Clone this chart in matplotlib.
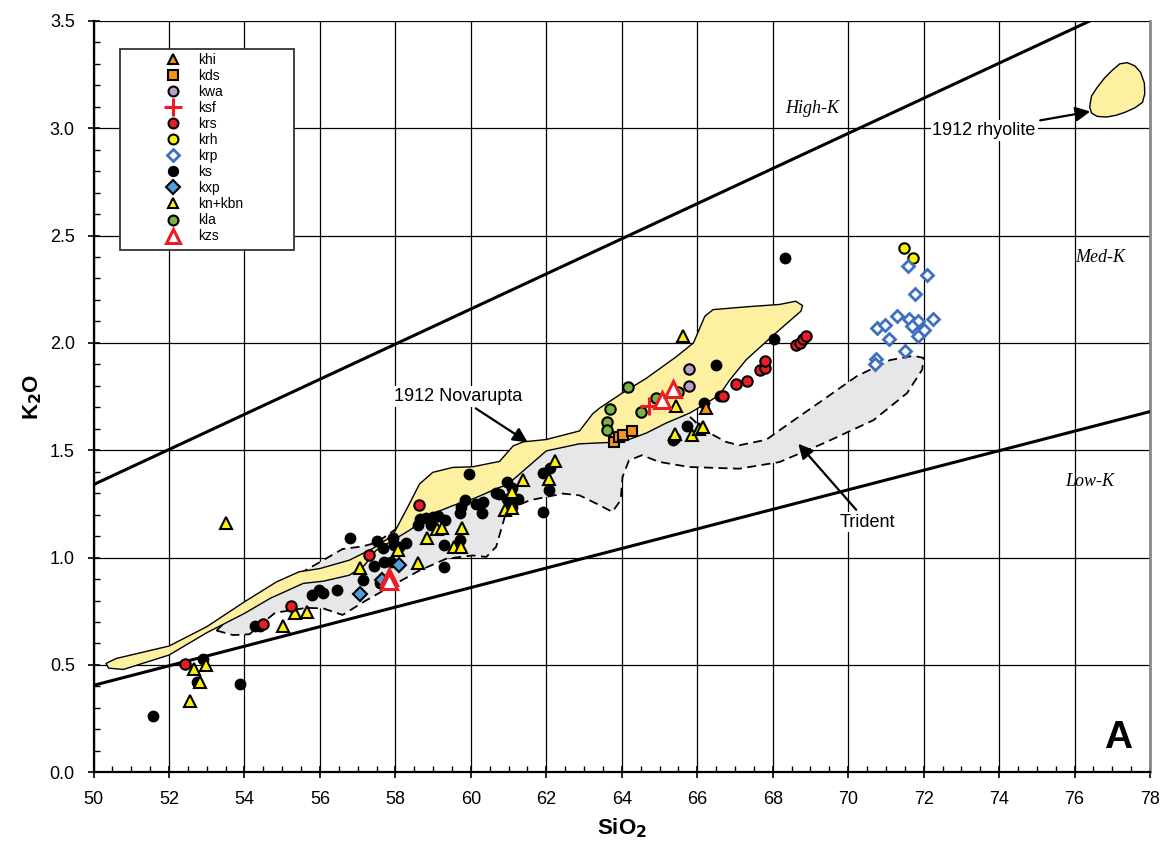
import numpy as np
import matplotlib
matplotlib.use("Agg")
import matplotlib.pyplot as plt
from matplotlib.patches import Polygon, Rectangle
from matplotlib.ticker import MultipleLocator, FormatStrFormatter

plt.rcParams['font.family'] = ['Liberation Sans', 'DejaVu Sans']

# ---- sample groups (SiO2, K2O) ----
khi_x = [66.22]
khi_y = [1.695]
kds_x = [63.80, 63.93, 64.03, 64.26]
kds_y = [1.538, 1.560, 1.573, 1.590]
kwa_x = [65.77, 65.77]
kwa_y = [1.877, 1.797]
ksf_x = [64.73]
ksf_y = [1.704]
krs_x = [52.43, 54.48, 55.24, 57.29, 58.62, 66.69, 67.02, 67.31, 67.66, 67.80,
         67.80, 68.62, 68.71, 68.80, 68.87]
krs_y = [0.503, 0.690, 0.775, 1.011, 1.245, 1.753, 1.810, 1.823, 1.875, 1.883,
         1.914, 1.992, 2.000, 2.019, 2.031]
krh_x = [71.48, 71.72]
krh_y = [2.443, 2.396]
krp_x = [71.58, 72.09, 71.77, 71.30, 71.60, 71.85, 72.25, 70.77, 70.97, 71.69,
         72.00, 71.85, 71.08, 71.50, 70.74, 70.70]
krp_y = [2.357, 2.318, 2.228, 2.124, 2.112, 2.101, 2.112, 2.070, 2.081, 2.078,
         2.059, 2.031, 2.016, 1.960, 1.925, 1.900]
ks_x = [51.58, 52.90, 52.75, 53.89, 54.28, 54.40, 55.78, 55.98, 56.07, 56.44,
        56.80, 57.13, 57.42, 57.70, 57.88, 57.50, 57.66, 57.93, 57.97, 58.10,
        58.28, 58.64, 58.81, 58.99, 59.12, 59.32, 58.59, 58.95, 59.94, 59.85,
        59.74, 59.70, 60.14, 60.32, 60.30, 60.67, 59.70, 59.30, 59.29, 60.96,
        61.09, 60.75, 60.96, 61.25, 61.09, 61.90, 62.11, 62.07, 61.91, 65.73,
        65.40, 65.36, 66.19, 66.59, 66.49, 68.04, 68.32, 57.60]
ks_y = [0.260, 0.530, 0.420, 0.410, 0.680, 0.680, 0.826, 0.850, 0.835, 0.850,
        1.090, 0.895, 0.960, 0.980, 0.980, 1.077, 1.046, 1.090, 1.060, 1.048,
        1.070, 1.180, 1.185, 1.188, 1.196, 1.173, 1.150, 1.150, 1.389, 1.270,
        1.235, 1.210, 1.250, 1.260, 1.210, 1.300, 1.080, 1.057, 0.954, 1.353,
        1.326, 1.295, 1.272, 1.272, 1.236, 1.396, 1.418, 1.317, 1.213, 1.614,
        1.557, 1.550, 1.722, 1.753, 1.897, 2.020, 2.395, 0.880]
kxp_x = [58.09, 57.65, 57.06]
kxp_y = [0.965, 0.895, 0.830]
kn_x = [53.51, 52.66, 52.97, 52.83, 52.56, 55.02, 55.34, 55.67, 57.06, 58.06,
        58.59, 58.83, 59.10, 59.24, 59.76, 59.55, 59.74, 60.90, 61.10, 61.10,
        61.39, 62.06, 62.24, 65.42, 65.87, 66.04, 66.16, 65.44, 65.63]
kn_y = [1.160, 0.483, 0.500, 0.420, 0.330, 0.680, 0.740, 0.745, 0.950, 1.034,
        0.975, 1.090, 1.135, 1.140, 1.140, 1.050, 1.050, 1.220, 1.233, 1.306,
        1.360, 1.365, 1.449, 1.576, 1.573, 1.600, 1.610, 1.707, 2.030]
kla_x = [63.69, 63.62, 63.62, 64.16, 64.50, 64.91, 65.50]
kla_y = [1.694, 1.632, 1.596, 1.793, 1.677, 1.745, 1.770]
kzs_x = [57.84, 57.84, 65.07, 65.35]
kzs_y = [0.910, 0.890, 1.735, 1.785]

# ---- fields ----
novarupta_x = [50.33, 50.60, 51.20, 52.00, 53.00, 54.00, 54.85, 55.45, 56.00, 56.78,
               57.40, 57.93, 58.37, 58.64, 58.99, 59.52, 60.05, 60.76, 61.12, 61.39,
               62.00, 62.88, 63.23, 63.41, 64.00, 64.65, 65.44, 65.90, 66.07, 66.20,
               66.42, 67.30, 68.18, 68.61, 68.79, 68.75, 68.44, 68.09, 67.74, 67.30,
               66.86, 66.59, 66.24, 65.80, 65.18, 64.65, 64.02, 62.88, 62.00, 60.95,
               60.76, 60.05, 59.52, 58.99, 58.37, 57.93, 57.49, 57.18, 56.78, 56.09,
               55.56, 54.68, 54.00, 53.00, 52.00, 50.79, 50.40]
novarupta_y = [0.507, 0.530, 0.555, 0.588, 0.678, 0.794, 0.887, 0.934, 0.949, 0.988,
               1.042, 1.103, 1.250, 1.343, 1.397, 1.420, 1.423, 1.448, 1.520, 1.539,
               1.550, 1.590, 1.670, 1.696, 1.765, 1.835, 1.935, 2.000, 2.070, 2.124,
               2.155, 2.168, 2.179, 2.194, 2.174, 2.148, 2.101, 2.047, 1.992, 1.922,
               1.827, 1.758, 1.719, 1.673, 1.627, 1.580, 1.539, 1.530, 1.497, 1.337,
               1.327, 1.273, 1.242, 1.204, 1.127, 1.080, 1.034, 0.964, 0.918, 0.890,
               0.880, 0.810, 0.740, 0.650, 0.546, 0.479, 0.485]
trident_x = [53.26, 53.60, 54.20, 55.00, 55.85, 56.60, 57.13, 57.50, 58.40, 59.50,
             60.80, 62.00, 63.00, 64.00, 65.00, 65.80, 66.18, 66.76, 67.11, 67.83,
             68.44, 69.33, 70.22, 71.11, 71.73, 72.00, 71.96, 71.56, 70.67, 69.33,
             68.18, 67.11, 65.78, 64.98, 64.54, 64.19, 64.02, 63.97, 63.75, 63.32,
             62.88, 62.44, 61.56, 60.95, 60.67, 60.41, 60.05, 59.35, 58.64, 58.02,
             57.22, 56.60, 56.09, 55.65, 54.81, 54.13, 53.70]
trident_y = [0.660, 0.720, 0.800, 0.880, 0.964, 1.040, 1.052, 1.070, 1.180, 1.320,
             1.400, 1.520, 1.560, 1.650, 1.700, 1.657, 1.594, 1.539, 1.523, 1.549,
             1.625, 1.734, 1.844, 1.920, 1.940, 1.930, 1.875, 1.766, 1.640, 1.531,
             1.445, 1.414, 1.422, 1.446, 1.477, 1.453, 1.376, 1.267, 1.213, 1.252,
             1.290, 1.298, 1.267, 1.221, 1.050, 1.003, 1.010, 0.995, 0.940, 0.880,
             0.800, 0.733, 0.763, 0.766, 0.743, 0.643, 0.639]
rhyolite_x = [76.40, 76.45, 76.60, 76.80, 77.00, 77.20, 77.40, 77.60, 77.75, 77.85,
              77.86, 77.80, 77.60, 77.35, 77.10, 76.85, 76.60, 76.45]
rhyolite_y = [3.100, 3.150, 3.190, 3.235, 3.270, 3.300, 3.305, 3.290, 3.260, 3.210,
              3.160, 3.120, 3.095, 3.075, 3.060, 3.052, 3.055, 3.070]

# ---- K-series boundaries ----
bound_x = [50, 78]
highk_y = [1.34, 3.63]
lowk_y = [0.405, 1.68]

fig = plt.figure(figsize=(11.62, 8.47), dpi=100)
ax = fig.add_axes([0.0805, 0.0882, 0.9092, 0.8872])

ax.set_xlim(50, 78)
ax.set_ylim(0, 3.5)

# grid
ax.xaxis.set_major_locator(MultipleLocator(2))
ax.xaxis.set_minor_locator(MultipleLocator(0.5))
ax.yaxis.set_major_locator(MultipleLocator(0.5))
ax.yaxis.set_minor_locator(MultipleLocator(0.1))
ax.yaxis.set_major_formatter(FormatStrFormatter('%.1f'))
ax.grid(True, which='major', color='black', lw=0.9, zorder=0)
ax.set_axisbelow(True)
ax.tick_params(which='major', direction='inout', length=9, width=1.2,
               labelsize=13, pad=9)
ax.tick_params(which='minor', direction='in', length=4, width=1.0)
ax.tick_params(top=False, right=False, which='both')
for s in ['left', 'bottom']:
    ax.spines[s].set_linewidth(1.6)
ax.spines['top'].set_visible(False)
ax.spines['right'].set_color('#888888')
ax.spines['right'].set_linewidth(2)

# fields
ax.add_patch(Polygon(np.column_stack([trident_x, trident_y]), closed=True,
                     facecolor='#e6e7e8', edgecolor='black', lw=1.3,
                     ls=(0, (5, 3)), zorder=1))
ax.add_patch(Polygon(np.column_stack([novarupta_x, novarupta_y]), closed=True,
                     facecolor='#fdf1a1', edgecolor='black', lw=1.0, zorder=2))
ax.add_patch(Polygon(np.column_stack([rhyolite_x, rhyolite_y]), closed=True,
                     facecolor='#fdf1a1', edgecolor='black', lw=1.0, zorder=2))

ax.plot(bound_x, highk_y, color='black', lw=2.2, zorder=3)
ax.plot(bound_x, lowk_y, color='black', lw=2.2, zorder=3)

# samples
mk = dict(ls='none', mec='black', mew=1.5)
h = {}
h['ks'], = ax.plot(ks_x, ks_y, marker='o', ms=7, mfc='black', label='ks', zorder=4, **mk)
h['kxp'], = ax.plot(kxp_x, kxp_y, marker='D', ms=7, mfc='#4ea1dc', label='kxp', zorder=5, **mk)
h['kn'], = ax.plot(kn_x, kn_y, marker='^', ms=8, mfc='#fff200', label='kn+kbn', zorder=5, **mk)
h['krs'], = ax.plot(krs_x, krs_y, marker='o', ms=7.5, mfc='#ed1c24', label='krs', zorder=5, **mk)
h['kla'], = ax.plot(kla_x, kla_y, marker='o', ms=7.5, mfc='#78b443', label='kla', zorder=5, **mk)
h['kds'], = ax.plot(kds_x, kds_y, marker='s', ms=7.5, mfc='#f7941d', label='kds', zorder=5, **mk)
h['kwa'], = ax.plot(kwa_x, kwa_y, marker='o', ms=7.5, mfc='#b9a0c9', label='kwa', zorder=5, **mk)
h['khi'], = ax.plot(khi_x, khi_y, marker='^', ms=8, mfc='#f7941d', label='khi', zorder=5, **mk)
h['krh'], = ax.plot(krh_x, krh_y, marker='o', ms=7.5, mfc='#fff200', label='krh', zorder=5, **mk)
h['krp'], = ax.plot(krp_x, krp_y, ls='none', marker='D', ms=6.5, mfc='white',
                    mec='#3f6fbf', mew=2, label='krp', zorder=5)
h['ksf'], = ax.plot(ksf_x, ksf_y, ls='none', marker='+', ms=13, mec='#ed1c24',
                    mew=2.2, label='ksf', zorder=6)
h['kzs'], = ax.plot(kzs_x, kzs_y, ls='none', marker='^', ms=11, mfc='white',
                    mec='#ed1c24', mew=2.2, label='kzs', zorder=6)

order = ['khi', 'kds', 'kwa', 'ksf', 'krs', 'krh', 'krp', 'ks', 'kxp', 'kn', 'kla', 'kzs']
leg = ax.legend([h[k] for k in order], [h[k].get_label() for k in order],
                loc='upper left', bbox_to_anchor=(0.058, 0.967), frameon=False,
                fontsize=10, labelspacing=0.15, handlelength=1.6,
                handletextpad=1.0, borderpad=0.0, markerscale=0.95)
leg.set_zorder(8)
ax.add_patch(Rectangle((0.025, 0.695), 0.165, 0.268, transform=ax.transAxes,
                       facecolor='white', edgecolor='#333333', lw=1.3, zorder=7))

# labels on the diagram
ax.text(69.05, 3.09, 'High-K', family='Liberation Serif', style='italic',
        fontsize=13, ha='center', va='center', zorder=3)
ax.text(76.67, 2.40, 'Med-K', family='Liberation Serif', style='italic',
        fontsize=13, ha='center', va='center', zorder=3)
ax.text(76.41, 1.356, 'Low-K', family='Liberation Serif', style='italic',
        fontsize=13, ha='center', va='center', zorder=3)

arrow = dict(arrowstyle='-|>', color='black', lw=1.6, mutation_scale=22)
ax.annotate('1912 rhyolite', xy=(76.49, 3.08), xytext=(73.6, 2.99),
            fontsize=13, ha='center', va='center', arrowprops=arrow, zorder=6,
            bbox=dict(boxstyle='square,pad=0.1', fc='white', ec='none'))
ax.annotate('1912 Novarupta', xy=(61.57, 1.53), xytext=(59.65, 1.75),
            fontsize=13, ha='center', va='center', arrowprops=arrow, zorder=6,
            bbox=dict(boxstyle='square,pad=0.1', fc='white', ec='none'))
ax.annotate('Trident', xy=(68.63, 1.54), xytext=(70.5, 1.165),
            fontsize=13, ha='center', va='center', arrowprops=arrow, zorder=6,
            bbox=dict(boxstyle='square,pad=0.1', fc='white', ec='none'))

ax.text(77.15, 0.16, 'A', fontsize=28, fontweight='bold', ha='center',
        va='center', zorder=6)

ax.set_xlabel('SiO$_\\mathbf{2}$', fontsize=16, fontweight='bold', labelpad=6)
ax.set_ylabel('K$_\\mathbf{2}$O', fontsize=16, fontweight='bold', labelpad=4)

fig.savefig('out.png', dpi=100)
